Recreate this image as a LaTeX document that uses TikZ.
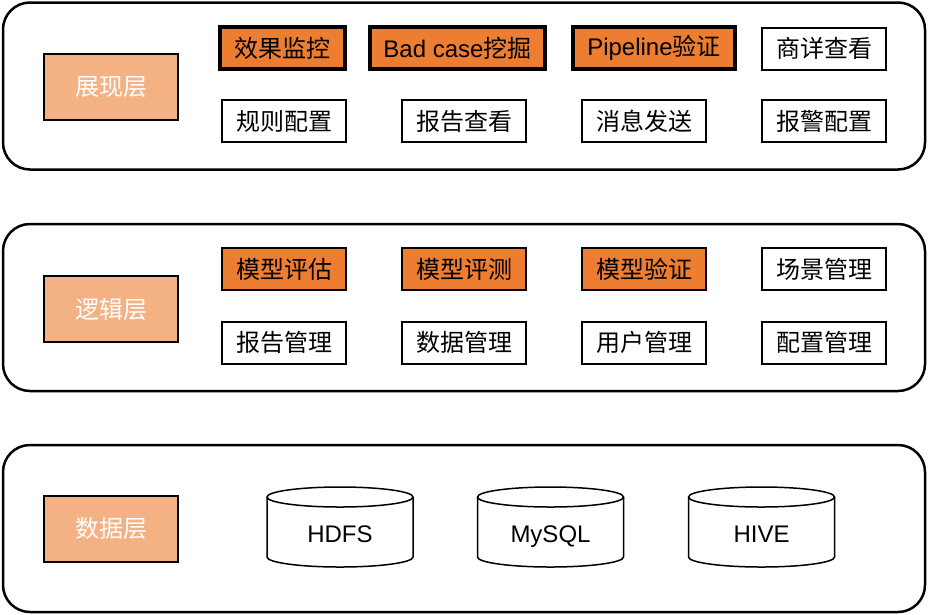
\documentclass[tikz,border=0pt]{standalone}
\usepackage{fontspec}
\setmainfont{Liberation Sans}
\newfontfamily\cjk{Noto Sans CJK SC}
\definecolor{hot}{HTML}{ED7D31}
\definecolor{pale}{HTML}{F4B183}

\begin{document}
\begin{tikzpicture}[x=1pt,y=-1pt]
\tikzstyle{layer}=[draw, line width=2.5pt, rounded corners=27pt, minimum width=922pt, minimum height=167pt]
\tikzstyle{tag}=[draw, line width=2pt, fill=pale, text=white, minimum width=134pt, minimum height=66pt, inner sep=0pt, font=\fontsize{24}{28}\selectfont\cjk]
\tikzstyle{box}=[draw, line width=2pt, minimum width=124pt, minimum height=42pt, inner sep=0pt, font=\fontsize{24}{28}\selectfont\cjk]
\tikzstyle{hotbox}=[box, fill=hot]
\tikzstyle{keybox}=[hotbox, line width=4pt, minimum width=125pt]
\tikzstyle{db}=[line width=1.5pt]
\useasboundingbox (0,0) rectangle (928,614);
% three layers
\node[layer] (showlayer) at (464,86) {};
\node[layer] (logiclayer) at (464,307.5) {};
\node[layer] (datalayer) at (464,528.5) {};
\node[tag] (showtag) at (111,87) {展现层};
\node[tag] (logictag) at (111,309) {逻辑层};
\node[tag] (datatag) at (111,528.5) {数据层};
% presentation
\node[keybox] (monitor) at (282.5,48) {效果监控};
\node[keybox, minimum width=175pt] (badcase) at (457.5,48) {{\rmfamily Bad case}挖掘};
\node[keybox, minimum width=162pt] (pipeline) at (654,48) {{\rmfamily Pipeline}验证};
\node[box] (detail) at (824,48.5) {商详查看};
\node[box] (rules) at (284,121) {规则配置};
\node[box] (report) at (464,121) {报告查看};
\node[box] (message) at (644,121) {消息发送};
\node[box] (alarm) at (824,121) {报警配置};
% logic
\node[hotbox] (assess) at (284,269) {模型评估};
\node[hotbox] (evaluate) at (464,269) {模型评测};
\node[hotbox] (verify) at (644,269) {模型验证};
\node[box] (scene) at (824,269) {场景管理};
\node[box] (reportmgr) at (284,342.5) {报告管理};
\node[box] (datamgr) at (464,342.5) {数据管理};
\node[box] (usermgr) at (644,342.5) {用户管理};
\node[box] (confmgr) at (824,342.5) {配置管理};
% storage
\foreach \cx/\nm/\txt in {340/hdfs/HDFS, 550.5/mysql/MySQL, 761.5/hive/HIVE}{
  \draw[db] (\cx-73,497) -- (\cx-73,557) arc[start angle=180, end angle=0, x radius=73, y radius=10] -- (\cx+73,497);
  \draw[db] (\cx,497) ellipse [x radius=73, y radius=10];
  \node[font=\fontsize{24}{28}\selectfont, anchor=base] (\nm) at (\cx,542) {\txt};
}
\end{tikzpicture}
\end{document}
